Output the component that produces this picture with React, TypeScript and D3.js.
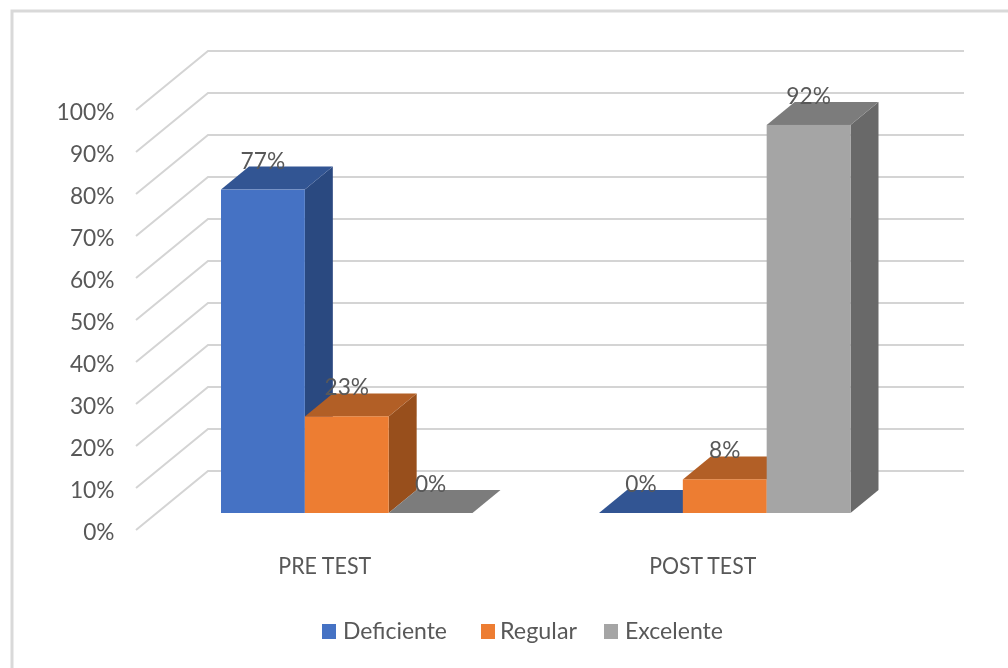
import React from "react";
import * as d3 from "d3";

const categories = ["PRE TEST", "POST TEST"];
const seriesNames = ["Deficiente", "Regular", "Excelente"];
const deficiente = [0.77, 0];
const regular = [0.23, 0.08];
const excelente = [0, 0.924];
const ticks = [0, 0.1, 0.2, 0.3, 0.4, 0.5, 0.6, 0.7, 0.8, 0.9, 1];
const colors = ["#4472C4", "#ED7D31", "#A5A5A5"];
const topColors = ["#335593", "#B25E25", "#7C7C7C"];
const sideColors = ["#2A4880", "#98501F", "#696969"];
const legendSwatchX = [322, 481, 604];
const legendTextX = [343, 500, 625];
const legendTextW = [104, 77, 98];
const categoryTextW = [93, 107];

const FONT = "Lato, 'Open Sans', sans-serif";
const TEXT = "#595959";
const series = [deficiente, regular, excelente];

export default function App() {
  const frontBase = 513;
  const yFront = d3.scaleLinear().domain([0, 1]).range([frontBase, frontBase - 420]);
  const yWall = d3.scaleLinear().domain([0, 1]).range([471, 51]);
  const yLabel = d3.scaleLinear().domain([0, 1]).range([531, 111]);
  const x0 = d3.scaleOrdinal<string, number>().domain(categories).range([221, 599]);
  const x1 = d3.scaleBand<string>().domain(seriesNames).range([0, 251.5]);
  const bw = x1.bandwidth();
  const dx = 28, dy = 23;
  const line = d3.line();
  const poly = (pts: [number, number][]) => line(pts) + "Z";
  const pct = d3.format(".0%");
  const pctW = (s: string) => 13.3 * (s.length - 1) + 18;

  return (
    <svg width={1008} height={668} style={{ position: "absolute", left: 0, top: 0, background: "#fff" }}>
      <defs>
        <filter id="soft" x="-5%" y="-5%" width="110%" height="110%">
          <feGaussianBlur stdDeviation="0.5" />
        </filter>
      </defs>
      <g filter="url(#soft)">
        <path d="M12 668V11H1008" fill="none" stroke="#D9D9D9" strokeWidth={3} />
        {ticks.map((t) => (
          <path
            key={t}
            d={line([[136, yLabel(t) - 1], [208, yWall(t)], [964, yWall(t)]]) as string}
            fill="none"
            stroke="#D4D4D4"
            strokeWidth={2}
          />
        ))}
        {ticks.map((t) => (
          <text key={t} x={114.5} y={yLabel(t) + 8.5} textAnchor="end" fontFamily={FONT} fontSize={24} fill={TEXT} textLength={pctW(pct(t))} lengthAdjust="spacingAndGlyphs">
            {pct(t)}
          </text>
        ))}
        {categories.map((c, ci) =>
          seriesNames.map((s, si) => {
            const v = series[si][ci];
            const xa = (x0(c) as number) + (x1(s) as number);
            const xb = xa + bw;
            const yt = yFront(v);
            return (
              <g key={c + s}>
                <path d={poly([[xb, yt], [xb + dx, yt - dy], [xb + dx, frontBase - dy], [xb, frontBase]])} fill={sideColors[si]} />
                <path d={poly([[xa, yt], [xa + dx, yt - dy], [xb + dx, yt - dy], [xb, yt]])} fill={topColors[si]} />
                <rect x={xa} y={yt} width={bw} height={frontBase - yt} fill={colors[si]} />
              </g>
            );
          })
        )}
        {categories.map((c, ci) =>
          seriesNames.map((s, si) => {
            const v = series[si][ci];
            const xa = (x0(c) as number) + (x1(s) as number);
            return (
              <text key={c + s} x={xa + bw / 2} y={yFront(v) - 21} textAnchor="middle" fontFamily={FONT} fontSize={24} fill={TEXT} textLength={pctW(pct(v))} lengthAdjust="spacingAndGlyphs">
                {pct(v)}
              </text>
            );
          })
        )}
        {categories.map((c, ci) => (
          <text key={c} x={(x0(c) as number) + 251.5 / 2 - 22} y={573.5} textAnchor="middle" fontFamily={FONT} fontSize={24} fill={TEXT} textLength={categoryTextW[ci]} lengthAdjust="spacingAndGlyphs">
            {c}
          </text>
        ))}
        {seriesNames.map((s, i) => (
          <g key={s}>
            <rect x={legendSwatchX[i]} y={624} width={14} height={15} fill={colors[i]} />
            <text x={legendTextX[i]} y={639} fontFamily={FONT} fontSize={24} fill={TEXT} textLength={legendTextW[i]} lengthAdjust="spacingAndGlyphs">
              {s}
            </text>
          </g>
        ))}
      </g>
    </svg>
  );
}
